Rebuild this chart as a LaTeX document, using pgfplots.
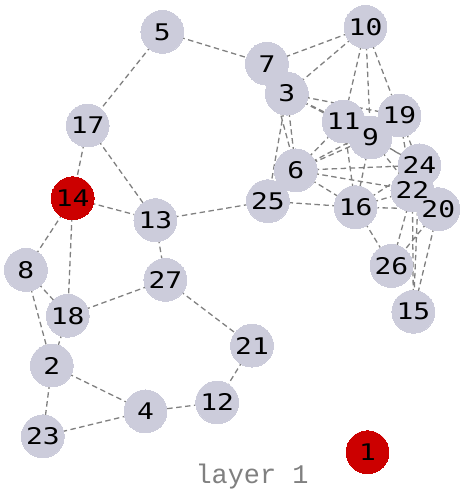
\documentclass[border=0pt]{standalone}
\usepackage{pgfplots}
\usepackage{pgfplotstable}
\usepackage{fontspec}
\pgfplotsset{compat=1.18}
\newfontfamily\labfont[FakeStretch=1.22]{DejaVu Sans Mono}
\newfontfamily\titfont{Liberation Mono}
\definecolor{nodegrey}{RGB}{204,204,219}
\definecolor{nodered}{RGB}{204,0,0}
\definecolor{edgegrey}{RGB}{128,128,128}
\definecolor{titgrey}{RGB}{128,128,128}

\pgfplotstableread{
x y label
163 32 5
367 27 10
268 64 7
288 94 3
88 126 17
345 122 11
401 116 19
372 138 9
297 171 6
421 166 24
414 191 22
440 210 20
269 202 25
357 208 16
156 221 13
26 271 8
166 281 27
68 317 18
393 267 26
415 313 15
253 347 21
52 367 2
146 413 4
218 404 12
43 438 23
}\greynodes

\pgfplotstableread{
x y label
73 199 14
369 454 1
}\rednodes

\pgfplotstableread{
x y
163 32
88 126
nan nan
163 32
268 64
nan nan
88 126
73 199
nan nan
88 126
156 221
nan nan
73 199
156 221
nan nan
73 199
26 271
nan nan
73 199
68 317
nan nan
156 221
269 202
nan nan
156 221
166 281
nan nan
26 271
68 317
nan nan
26 271
52 367
nan nan
68 317
52 367
nan nan
68 317
166 281
nan nan
166 281
253 347
nan nan
253 347
218 404
nan nan
218 404
146 413
nan nan
146 413
52 367
nan nan
146 413
43 438
nan nan
52 367
43 438
nan nan
367 27
268 64
nan nan
367 27
288 94
nan nan
367 27
345 122
nan nan
367 27
372 138
nan nan
367 27
401 116
nan nan
288 94
401 116
nan nan
288 94
345 122
nan nan
288 94
372 138
nan nan
288 94
297 171
nan nan
288 94
269 202
nan nan
268 64
297 171
nan nan
297 171
345 122
nan nan
297 171
372 138
nan nan
297 171
401 116
nan nan
297 171
421 166
nan nan
297 171
414 191
nan nan
297 171
357 208
nan nan
345 122
357 208
nan nan
372 138
357 208
nan nan
345 122
421 166
nan nan
372 138
421 166
nan nan
372 138
414 191
nan nan
401 116
421 166
nan nan
401 116
414 191
nan nan
357 208
269 202
nan nan
357 208
414 191
nan nan
357 208
421 166
nan nan
357 208
440 210
nan nan
357 208
393 267
nan nan
414 191
393 267
nan nan
414 191
415 313
nan nan
421 166
415 313
nan nan
440 210
393 267
nan nan
440 210
415 313
}\edges

\begin{document}
\begin{tikzpicture}
\begin{axis}[
  width=462pt, height=492pt, scale only axis,
  xmin=0, xmax=462, ymin=0, ymax=492,
  y dir=reverse,
  hide axis, clip=false,
  unbounded coords=jump,
]
\addplot[edgegrey, line width=1.3pt, dash pattern=on 5.5pt off 3.5pt, mark=none]
  table[x=x, y=y] {\edges};
\addplot[nodegrey, only marks, mark=*, mark size=21.5pt, mark options={draw=nodegrey, fill=nodegrey, line width=0pt}]
  table[x=x, y=y] {\greynodes};
\addplot[nodered, only marks, mark=*, mark size=21.5pt, mark options={draw=nodered, fill=nodered, line width=0pt}]
  table[x=x, y=y] {\rednodes};
\addplot[draw=none, mark=none, nodes near coords, point meta=explicit symbolic,
  nodes near coords style={anchor=center, font=\labfont\fontsize{23}{23}\selectfont, text=black, inner sep=0pt}]
  table[x=x, y=y, meta=label] {\greynodes};
\addplot[draw=none, mark=none, nodes near coords, point meta=explicit symbolic,
  nodes near coords style={anchor=center, font=\labfont\fontsize{23}{23}\selectfont, text=black, inner sep=0pt}]
  table[x=x, y=y, meta=label] {\rednodes};
\node[anchor=base, text=titgrey, font=\titfont\fontsize{27}{27}\selectfont] at (axis cs:253,485) {layer 1};
\end{axis}
\path (current axis.south west) rectangle (current axis.north east);
\end{tikzpicture}
\end{document}
